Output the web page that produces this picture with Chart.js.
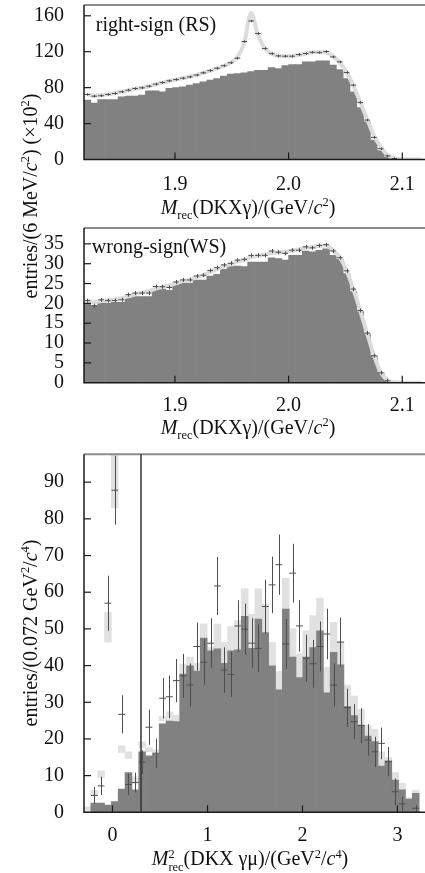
<!DOCTYPE html>
<html>
<head>
<meta charset="utf-8">
<script src="https://cdn.jsdelivr.net/npm/chart.js@4.4.0/dist/chart.umd.min.js"></script>
<style>
  body { margin: 0; background: #fff; width: 425px; height: 873px; overflow: hidden; position: relative;
         font-family: "Liberation Serif", "DejaVu Serif", serif; color: #111; }
  .panel { position: absolute; left: 0; }
  .lbl { position: absolute; white-space: nowrap; transform: translate(-50%, -50%); font-size: 20px; line-height: 1; }
  .vlbl { position: absolute; white-space: nowrap; transform: translate(-50%, -50%) rotate(-90deg); font-size: 20px; line-height: 1; }
  sub, sup { font-size: 0.62em; line-height: 0; }
  .stk { display: inline-block; vertical-align: -0.45em; font-size: 0.62em; line-height: 1.05; text-align: left; }
  .stk span { display: block; }
</style>
</head>
<body>
<div class="panel" style="top:0"><canvas id="rs" width="425" height="215"></canvas></div>
<div class="panel" style="top:220px"><canvas id="ws" width="425" height="215"></canvas></div>
<div class="panel" style="top:440px"><canvas id="mm" width="425" height="433"></canvas></div>

<div class="lbl" style="left:156px; top:24px">right-sign (RS)</div>
<div class="lbl" style="left:159px; top:246px">wrong-sign(WS)</div>
<div class="lbl" style="left:248px; top:207px"><i>M</i><sub>rec</sub>(DKXγ)/(GeV/<i>c</i><sup>2</sup>)</div>
<div class="lbl" style="left:248px; top:427px"><i>M</i><sub>rec</sub>(DKXγ)/(GeV/<i>c</i><sup>2</sup>)</div>
<div class="lbl" style="left:250px; top:861px"><i>M</i><span class="stk"><span>2</span><span>rec</span></span>(DKX γμ)/(GeV<sup>2</sup>/<i>c</i><sup>4</sup>)</div>
<div class="vlbl" style="left:30px; top:196px">entries/(6 MeV/<i>c</i><sup>2</sup>) (×10<sup>2</sup>)</div>
<div class="vlbl" style="left:30px; top:633px">entries/(0.072 GeV<sup>2</sup>/<i>c</i><sup>4</sup>)</div>

<script>
// bin centres, recoil mass (GeV/c^2), 6 MeV bins
const massCenters = [1.823, 1.829, 1.835, 1.841, 1.847, 1.853, 1.859, 1.865, 1.871, 1.877,
  1.883, 1.889, 1.895, 1.901, 1.907, 1.913, 1.919, 1.925, 1.931, 1.937,
  1.943, 1.949, 1.955, 1.961, 1.967, 1.973, 1.979, 1.985, 1.991, 1.997,
  2.003, 2.009, 2.015, 2.021, 2.027, 2.033, 2.039, 2.045, 2.051, 2.057,
  2.063, 2.069, 2.075, 2.081, 2.087, 2.093, 2.099, 2.105, 2.111, 2.117];
const massTicks = [1.9, 2.0, 2.1];

// right-sign (x100 entries)
const rsBkg = [66.1, 62.8, 66.8, 66.8, 66.8, 69.8, 70.5, 70.5, 71.6, 76.5,
  76.5, 75.4, 79.1, 80.2, 80.9, 82.8, 84.6, 86.5, 88.3, 90.2,
  92.8, 95, 95.7, 96.5, 98, 99.4, 99.4, 102.4, 101.3, 104.6,
  105.7, 105.7, 108.7, 108.7, 109.8, 109.8, 105, 100.2, 90.2, 75.4,
  57.9, 42, 21.6, 9.8, 2.4, 0.3, 0, 0, 0, 0];
const rsData = [72.4, 70.5, 71, 72.4, 73.5, 75.4, 77.2, 79, 79.8, 81.6,
  83.9, 85.7, 87.6, 89, 90.5, 92, 94, 96.5, 99, 101.6,
  104.4, 107.7, 112.8, 131.3, 154.2, 140.2, 123.5, 117.9, 115.3, 115,
  115, 116.8, 117.9, 119.4, 119, 120.2, 114.2, 108.7, 96.8, 82.8,
  63.5, 43.9, 24.6, 12, 4, 1, null, null, null, null];
const rsFit = [72.5, 71, 71.5, 72.5, 73.8, 75.4, 77, 78.7, 80, 81.6,
  83.7, 85.6, 87.4, 89, 90.6, 92.3, 94.2, 96.4, 98.8, 101.4,
  104.4, 108, 114, 130, 163, 139, 124, 118, 115.5, 115,
  115.3, 116.5, 118, 119.2, 119.8, 119.5, 115, 108, 97, 82,
  64, 45, 27, 14, 5, 1.5, 0.4, 0, 0, 0];
const rsTicks = [0, 40, 80, 120, 160];

// wrong-sign (x100 entries)
const wsBkg = [20.1, 19.4, 20.1, 20.1, 20.25, 20.25, 21.25, 21.7, 21.7, 21.7,
  23.75, 23.6, 23.3, 24.7, 25.1, 25.1, 25.9, 25.9, 26.9, 27.3,
  28.6, 29.25, 29.4, 29.25, 30.4, 30.4, 30.4, 31.5, 31.3, 30.9,
  32.1, 32.1, 33.2, 33, 33.4, 33.75, 32.1, 31.1, 27.5, 23,
  17.9, 12.3, 6.75, 2.5, 0.4, 0.1, 0, 0, 0, 0];
const wsData = [20.7, 19.4, 20.9, 20.7, 20.7, 20.9, 22.2, 22.6, 22.6, 22.6,
  24.25, 24.2, 24, 25.4, 25.9, 25.9, 26.9, 27.1, 28.3, 29,
  29.7, 30.1, 30.9, 31.1, 32.1, 32.1, 32.1, 33.2, 32.9, 32.6,
  33.4, 33.4, 34.25, 34, 34.6, 34.8, 33.2, 31.5, 28.2, 23.6,
  18.2, 12.5, 6.8, 2.5, 0.5, null, null, null, null, null];
const wsFit = [20.6, 20.3, 20.6, 20.8, 21, 21.3, 21.8, 22.3, 22.7, 23.1,
  23.7, 24.1, 24.5, 25.1, 25.6, 26, 26.6, 27.1, 27.9, 28.6,
  29.3, 29.9, 30.5, 31, 31.6, 32, 32.3, 32.7, 32.9, 33,
  33.3, 33.6, 34, 34.2, 34.5, 34.6, 33.4, 31.6, 28.3, 23.6,
  18.2, 12.5, 7, 2.6, 0.7, 0.1, 0, 0, 0, 0];
const wsTicks = [0, 5, 10, 15, 20, 25, 30, 35];

// M^2_rec(DKX gamma mu), 0.072 GeV^2/c^4 bins
const mm2Centers = [-0.264, -0.192, -0.120, -0.048, 0.024, 0.096, 0.168, 0.240, 0.312, 0.384,
  0.456, 0.528, 0.600, 0.672, 0.744, 0.816, 0.888, 0.960, 1.032, 1.104,
  1.176, 1.248, 1.320, 1.392, 1.464, 1.536, 1.608, 1.680, 1.752, 1.824,
  1.896, 1.968, 2.040, 2.112, 2.184, 2.256, 2.328, 2.400, 2.472, 2.544,
  2.616, 2.688, 2.760, 2.832, 2.904, 2.976, 3.048, 3.120, 3.192, 3.264];
const mm2Bkg = [0, 2.5, 2.5, 2, 2.9, 6.3, 10.8, 6.1, 16.5, 15.4,
  15.8, 24.1, 24.9, 24.7, 37.7, 39.9, 38.5, 47.5, 44, 44.6,
  40.6, 44, 44.3, 53.4, 44.7, 52.7, 49, 39.9, 33.4, 55.4,
  42.3, 36.7, 42.3, 44.9, 49.5, 32.6, 43.6, 40.2, 28.8, 26.4,
  23.8, 20.8, 19.3, 12.6, 14, 8.8, 6.1, 3.6, 5.2, 0];
const mm2BandLo = [0, 4.5, 9.5, 46.4, 83, 16.3, 14.7, 8.1, 17.6, 16.5,
  15.8, 24.9, 24.9, 24.7, 0, 0, 0, 0, 0, 0,
  0, 0, 0, 0, 0, 0, 0, 0, 0, 0,
  0, 0, 0, 0, 0, 0, 0, 0, 0, 0,
  0, 0, 0, 0, 0, 0, 0, 0, 0, 0];
const mm2BandHi = [1.5, 5.9, 11.3, 54.5, 100, 18.1, 16.5, 9.7, 19.2, 17.6,
  17, 26.1, 27.4, 26.5, 40.4, 42.3, 40.6, 51.4, 45, 51.3,
  46.3, 50.6, 52.3, 60.9, 54, 60.9, 56.7, 46.3, 38.4, 63.8,
  50, 43.2, 49.5, 53.6, 58.4, 39.5, 51.8, 46.5, 34.7, 31.7,
  28.1, 23.8, 22.6, 16.5, 15, 10.8, 7.9, 4, 6, 0];
const mm2Data = [null, 4.6, 7.2, 57, 87.8, 26.7, 7.6, 8.1, 13.7, 23.2,
  16.1, 31.1, 31.5, 35.9, 37.2, 34.7, 45.2, 40.9, 46.1, 61.7,
  38.8, 37.6, 50.8, 49.9, 46.1, 44.7, 56.1, 62, 67.5, 45.9,
  65.2, 50.8, 42, 40.5, 45.2, 48.6, 34.7, 46.4, 28.5, 24.7,
  23.6, 19.7, 16.5, 18.8, 13.8, 5.6, 2.3, null, 1.1, null];
const mm2Err = [0, 2.3, 2.5, 7.5, 9.4, 5.2, 2.9, 2.7, 3.2, 4.8,
  4, 5.5, 5.8, 5.9, 6, 5.9, 6.5, 6.3, 6.8, 7.9,
  6.2, 6.1, 7, 7, 6.8, 6.5, 7.3, 7.7, 8.2, 6.8,
  8, 7, 6.4, 6.5, 6.8, 6.9, 5.9, 6.7, 5.2, 4.8,
  4.8, 4.3, 4.1, 4.3, 4, 3.6, 2, 0, 0.9, 0];
const mm2XTicks = [0, 1, 2, 3];
const mm2YTicks = [0, 10, 20, 30, 40, 50, 60, 70, 80, 90];
const mm2Cut = 0.3;

Chart.defaults.font.family = '"Liberation Serif", "DejaVu Serif", serif';
Chart.defaults.color = '#111';

const DARK = '#818181';
const BAND = '#e1e1e1';
const MARK = '#4d4d4d';

const pts = (xs, ys) => xs.map((x, i) => ({ x: x, y: ys[i] }));

// frame, inward ticks, error bars, cut line
const framePlugin = {
  id: 'frame',
  afterDatasetsDraw(chart) {
    const { ctx, scales: { y } } = chart;
    ctx.save();
    ctx.strokeStyle = MARK;
    ctx.lineWidth = 1;
    chart.data.datasets.forEach((ds, i) => {
      if (ds.errors === undefined) return;
      const meta = chart.getDatasetMeta(i);
      meta.data.forEach((pt, j) => {
        const v = ds.data[j].y;
        if (v === null) return;
        const e = Array.isArray(ds.errors) ? ds.errors[j] : ds.errors;
        ctx.beginPath();
        ctx.moveTo(Math.round(pt.x) + 0.5, y.getPixelForValue(v - e));
        ctx.lineTo(Math.round(pt.x) + 0.5, y.getPixelForValue(v + e));
        ctx.stroke();
      });
    });
    ctx.restore();
  },
  afterDraw(chart, args, opts) {
    const { ctx, chartArea: a, scales: { x, y } } = chart;
    ctx.save();
    ctx.strokeStyle = '#8c8c8c';
    ctx.lineWidth = 2;
    ctx.beginPath(); ctx.moveTo(a.left, a.top); ctx.lineTo(a.right, a.top); ctx.stroke();
    ctx.strokeStyle = '#1a1a1a';
    ctx.lineWidth = 1.5;
    ctx.beginPath(); ctx.moveTo(a.left, a.top); ctx.lineTo(a.left, a.bottom); ctx.lineTo(a.right, a.bottom); ctx.stroke();
    if (opts.cut !== undefined) {
      const cx = x.getPixelForValue(opts.cut);
      ctx.strokeStyle = '#333';
      ctx.lineWidth = 1.5;
      ctx.beginPath(); ctx.moveTo(cx, a.bottom); ctx.lineTo(cx, a.top); ctx.stroke();
    }
    ctx.strokeStyle = '#1a1a1a';
    ctx.lineWidth = 1.2;
    x.ticks.forEach(t => {
      const px = x.getPixelForValue(t.value);
      ctx.beginPath(); ctx.moveTo(px, a.bottom); ctx.lineTo(px, a.bottom - 7); ctx.stroke();
    });
    y.ticks.forEach(t => {
      if (t.value === 0) return;
      const py = y.getPixelForValue(t.value);
      ctx.beginPath(); ctx.moveTo(a.left, py); ctx.lineTo(a.left + 7, py); ctx.stroke();
    });
    ctx.restore();
  }
};

function xScale(min, max, ticks, digits, pad, height) {
  return {
    type: 'linear', min: min, max: max, offset: false,
    grid: { display: false }, border: { display: false },
    ticks: { font: { size: 20 }, padding: pad, maxRotation: 0, autoSkip: false, callback: v => v.toFixed(digits) },
    afterBuildTicks: s => { s.ticks = ticks.map(v => ({ value: v })); },
    afterFit: s => { s.height = height; s.paddingLeft = 0; s.paddingRight = 0; }
  };
}

function yScale(max, ticks) {
  return {
    type: 'linear', min: 0, max: max,
    grid: { display: false }, border: { display: false },
    ticks: { font: { size: 20 }, padding: 12, autoSkip: false },
    afterBuildTicks: s => { s.ticks = ticks.map(v => ({ value: v })); },
    afterFit: s => { s.width = 84; s.paddingTop = 0; s.paddingBottom = 0; }
  };
}

function massPanel(id, bkg, data, fit, err, yMax, yTicks, padTop, xHeight, xPad) {
  new Chart(document.getElementById(id), {
    type: 'bar',
    data: {
      datasets: [
        { type: 'line', data: pts(massCenters, data), errors: err, showLine: false,
          pointStyle: 'line', pointRadius: 2.8, pointBorderWidth: 1, pointBorderColor: MARK, order: 1 },
        { type: 'line', data: pts(massCenters, fit), borderColor: '#dcdcdc', borderWidth: 4,
          pointRadius: 0, cubicInterpolationMode: 'monotone', fill: false, order: 2 },
        { type: 'bar', data: pts(massCenters, bkg), backgroundColor: DARK, borderWidth: 0,
          barPercentage: 1, categoryPercentage: 1, grouped: false, order: 3 }
      ]
    },
    options: {
      responsive: false, animation: false,
      layout: { autoPadding: false, padding: { top: padTop, left: 0, right: 0, bottom: 0 } },
      plugins: { legend: { display: false }, tooltip: { enabled: false }, frame: {} },
      scales: { x: xScale(1.82, 2.12, massTicks, 1, xPad, xHeight), y: yScale(yMax, yTicks) }
    },
    plugins: [framePlugin]
  });
}

massPanel('rs', rsBkg, rsData, rsFit, 1.4, 172, rsTicks, 5, 55.5, 5);
massPanel('ws', wsBkg, wsData, wsFit, 0.5, 39, wsTicks, 8, 52.3, 3);

new Chart(document.getElementById('mm'), {
  type: 'bar',
  data: {
    datasets: [
      { type: 'line', data: pts(mm2Centers, mm2Data), errors: mm2Err, showLine: false,
        pointStyle: 'line', pointRadius: 3.4, pointBorderWidth: 1, pointBorderColor: MARK, order: 1 },
      { type: 'bar', data: pts(mm2Centers, mm2Bkg), backgroundColor: DARK, borderWidth: 0,
        barPercentage: 1, categoryPercentage: 1, grouped: false, order: 2 },
      { type: 'bar', data: mm2Centers.map((x, i) => ({ x: x, y: [mm2BandLo[i], mm2BandHi[i]] })),
        backgroundColor: BAND, borderWidth: 0,
        barPercentage: 1, categoryPercentage: 1, grouped: false, order: 3 }
    ]
  },
  options: {
    responsive: false, animation: false,
    layout: { autoPadding: false, padding: { top: 14.3, left: 0, right: 0, bottom: 0 } },
    plugins: { legend: { display: false }, tooltip: { enabled: false }, frame: { cut: mm2Cut } },
    scales: { x: xScale(-0.3, 3.29, mm2XTicks, 0, 3, 60.7), y: yScale(97.6, mm2YTicks) }
  },
  plugins: [framePlugin]
});
</script>
</body>
</html>
